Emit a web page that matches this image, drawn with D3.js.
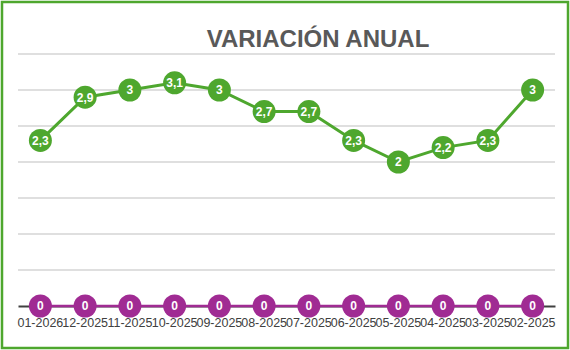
<!DOCTYPE html>
<html><head><meta charset="utf-8">
<script src="https://cdn.jsdelivr.net/npm/d3@7"></script>
<style>body{margin:0;background:#fff}svg{display:block}</style>
</head><body>
<svg id="c" width="570" height="350"></svg>
<script>
const categories = ["01-2026","12-2025","11-2025","10-2025","09-2025","08-2025","07-2025","06-2025","05-2025","04-2025","03-2025","02-2025"];
const variacion = [2.3,2.9,3,3.1,3,2.7,2.7,2.3,2,2.2,2.3,3];
const ceros = [0,0,0,0,0,0,0,0,0,0,0,0];
const yTicks = [0,0.5,1,1.5,2,2.5,3,3.5];
const title = "VARIACIÓN ANUAL";

const svg = d3.select("#c");
const green = "#4EA72E", purple = "#A02B93";
svg.append("rect").attr("x",2).attr("y",2).attr("width",566).attr("height",346)
  .attr("fill","#fff").attr("stroke",green).attr("stroke-width",2.5);

const x = d3.scaleBand().domain(categories).range([18,555]);
const y = d3.scaleLinear().domain([0,3.5]).range([306,54]);
const cx = d => x(d) + x.bandwidth()/2;

svg.append("text").attr("x",318).attr("y",47).attr("text-anchor","middle")
  .attr("font-family","Liberation Sans, Arial, sans-serif").attr("font-weight","bold")
  .attr("font-size",24).attr("fill","#595959").text(title);

svg.append("g").selectAll("line").data(yTicks.filter(t=>t>0)).join("line")
  .attr("x1",18).attr("x2",555).attr("y1",d=>y(d)).attr("y2",d=>y(d))
  .attr("stroke","#BFBFBF").attr("stroke-width",1);

const xAxis = svg.append("g").attr("transform","translate(0,306)")
  .call(d3.axisBottom(x).tickSize(0).tickPadding(12));
xAxis.select(".domain").attr("stroke","#404040").attr("stroke-width",2);
xAxis.selectAll("text").attr("font-family","Liberation Sans, Arial, sans-serif")
  .attr("font-size",12.5).attr("fill","#404040");

const line = d3.line().x((d,i)=>cx(categories[i])).y(d=>y(d));

svg.append("path").datum(ceros).attr("d",line).attr("fill","none")
  .attr("stroke",purple).attr("stroke-width",2.5);
svg.append("path").datum(variacion).attr("d",line).attr("fill","none")
  .attr("stroke",green).attr("stroke-width",3);

function markers(data,color){
  const g = svg.append("g").selectAll("g").data(data).join("g")
    .attr("transform",(d,i)=>`translate(${cx(categories[i])},${y(d)})`);
  g.append("circle").attr("r",11.5).attr("fill",color);
  g.append("text").attr("text-anchor","middle").attr("dy","0.36em")
    .attr("font-family","Liberation Sans, Arial, sans-serif").attr("font-weight","bold")
    .attr("font-size",12).attr("fill","#fff").text(d=>String(d).replace(".",","));
}
markers(ceros,purple);
markers(variacion,green);
</script>
</body></html>
